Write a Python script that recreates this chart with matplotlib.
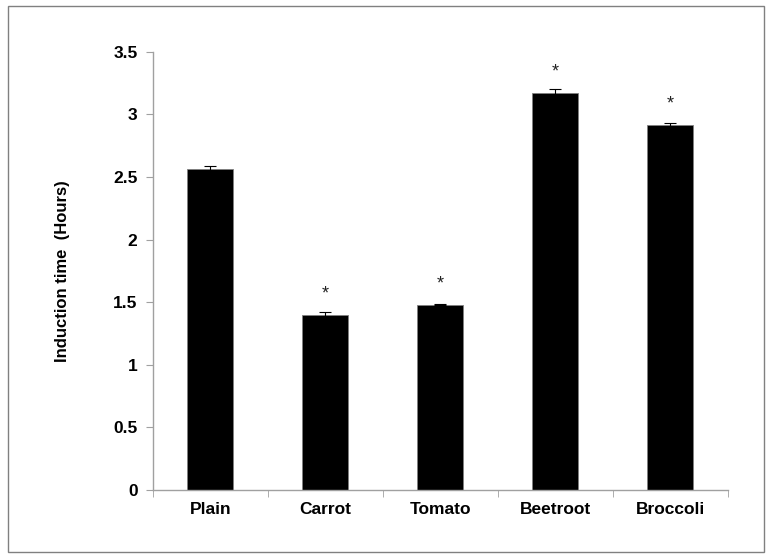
import matplotlib.pyplot as plt
import numpy as np
from matplotlib.patches import Rectangle

plt.rcParams['font.family'] = ['Liberation Sans', 'DejaVu Sans']

foods = ['Plain', 'Carrot', 'Tomato', 'Beetroot', 'Broccoli']
induction = [2.565, 1.40, 1.48, 3.17, 2.915]
err = [0.02, 0.02, 0.006, 0.03, 0.018]
signif = [False, True, True, True, True]

fig = plt.figure(figsize=(7.72, 5.6), dpi=100)
ax = fig.add_axes([0.198, 0.125, 0.745, 0.7825])

x = np.arange(len(foods))
ax.bar(x, induction, width=0.4, color='black', edgecolor='#808080', linewidth=0.6,
       yerr=err, error_kw=dict(ecolor='black', elinewidth=0.8, capsize=4, capthick=0.8))

for xi, v, s in zip(x, induction, signif):
    if s:
        ax.text(xi, v + 0.1, '*', ha='center', va='bottom', fontsize=13, color='#222222')

ax.set_xlim(-0.5, len(foods) - 0.5)
ax.set_ylim(0, 3.5)
ax.set_yticks(np.arange(0, 3.51, 0.5))
ax.set_yticklabels(['0', '0.5', '1', '1.5', '2', '2.5', '3', '3.5'])
ax.set_xticks(x)
ax.set_xticklabels(foods)
ax.set_xticks(np.arange(-0.5, len(foods), 1), minor=True)
ax.tick_params(axis='x', which='major', length=0, pad=9)
ax.tick_params(axis='x', which='minor', length=5, color='#a0a0a0', direction='out')
ax.tick_params(axis='y', length=5, color='#a0a0a0', direction='out', pad=6)
for lab in ax.get_xticklabels() + ax.get_yticklabels():
    lab.set_fontweight('bold')
    lab.set_fontsize(12.5)

for side in ['top', 'right']:
    ax.spines[side].set_visible(False)
for side in ['left', 'bottom']:
    ax.spines[side].set_color('#a0a0a0')
    ax.spines[side].set_linewidth(1)

ax.set_ylabel('Induction time  (Hours)', fontsize=12, fontweight='bold', labelpad=31)

fig.patches.append(Rectangle((0.01, 0.015), 0.98, 0.975, transform=fig.transFigure,
                             fill=False, edgecolor='#808080', linewidth=1))

fig.savefig('out.png', dpi=100)
